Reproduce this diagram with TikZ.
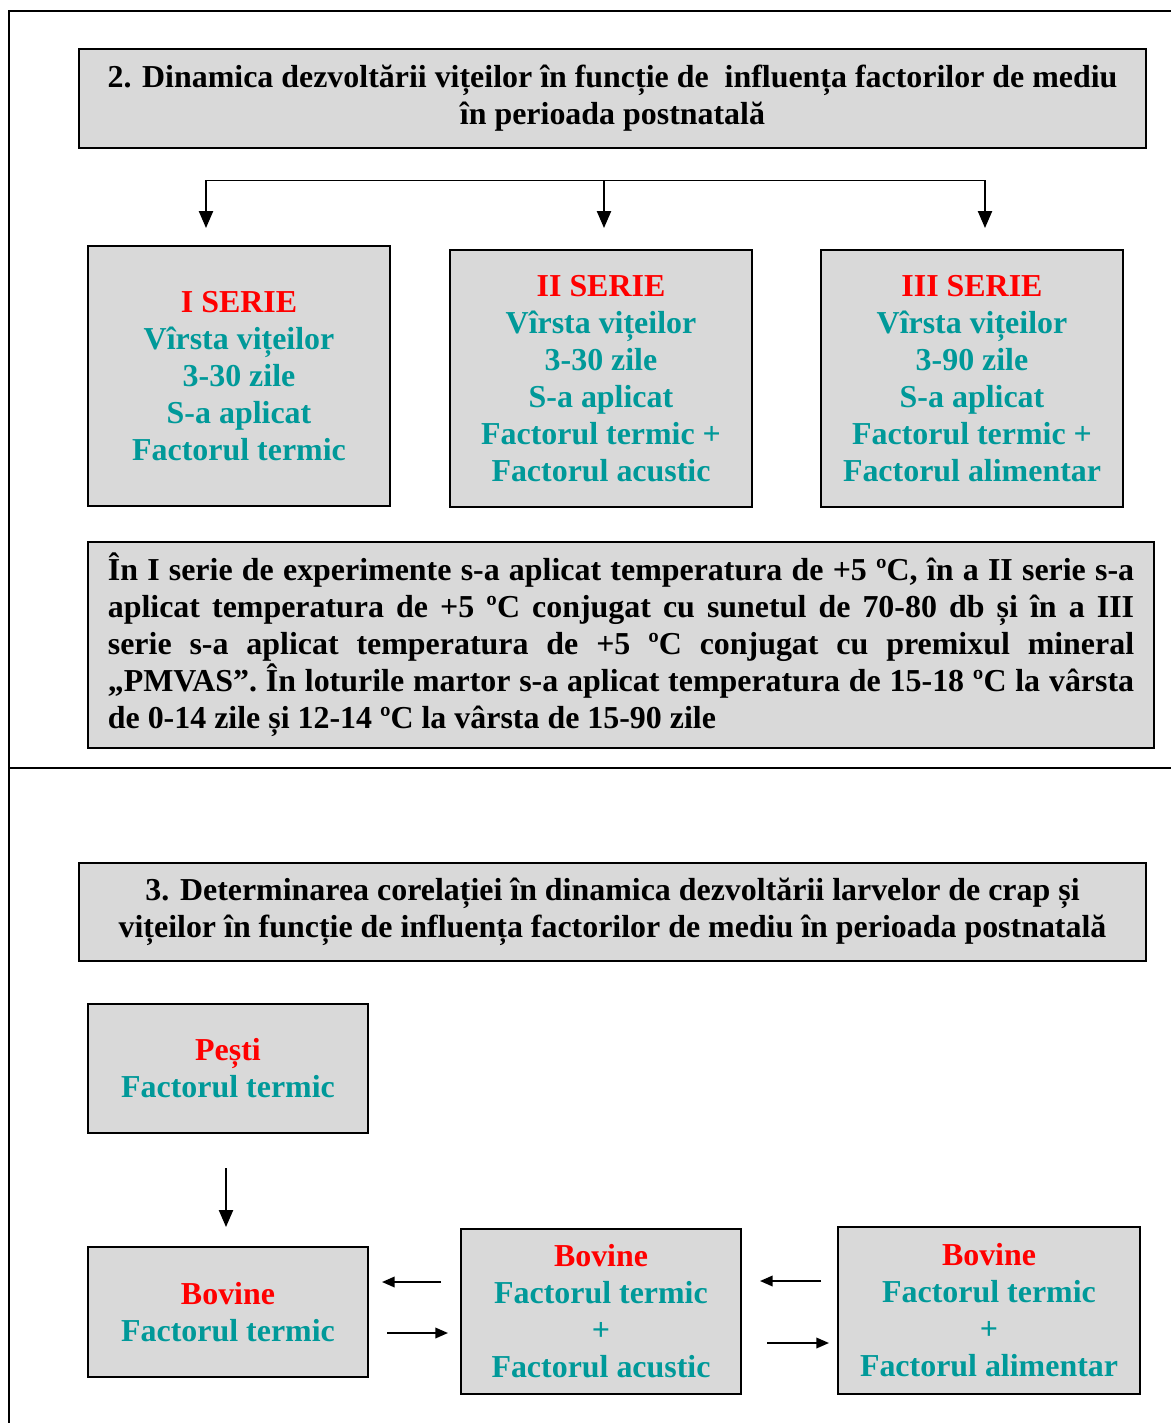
\documentclass[tikz,border=0pt]{standalone}
\usepackage{fontspec}
\setmainfont{Liberation Serif}
\usetikzlibrary{calc,positioning,arrows.meta,shadows}
\definecolor{serred}{RGB}{255,0,0}
\definecolor{serteal}{RGB}{0,153,153}
\definecolor{boxgray}{RGB}{217,217,217}
\newcommand\rosu[1]{\textcolor{serred}{#1}}
\newcommand\verde[1]{\textcolor{serteal}{#1}}

\begin{document}
\begin{tikzpicture}
[x=0.025cm, y=-0.025cm,
 font=\fontsize{22.7}{26.3}\selectfont\bfseries,
 box/.style={draw, line width=1.3pt, fill=boxgray, align=center, inner sep=0pt,
   drop shadow={shadow xshift=0.7pt, shadow yshift=-0.7pt, fill=black, opacity=1}},
 frame/.style={line width=1.6pt},
 arr/.style={line width=1.3pt, -{Triangle[length=12pt, width=10pt]}},
 harr/.style={line width=1.3pt, -{Triangle[length=9pt, width=7.5pt]}}]
\useasboundingbox (0,0) rectangle (1171,1423);
% cadrul
\draw[frame] (1171,11) -- (9,11) -- (9,1423);
\draw[frame] (9,768) -- (1171,768);
% partea 2
\node [box, minimum width=26.675cm, minimum height=2.475cm] (tit2) at (612.5,98.5)
  {2. Dinamica dezvoltării vițeilor în funcție de \ influența factorilor de mediu\\ în perioada postnatală};
\node [box, minimum width=7.55cm, minimum height=6.5cm] (s1) at (239,376)
  {\rosu{I SERIE}\\ \verde{Vîrsta vițeilor}\\ \verde{3-30 zile}\\ \verde{S-a aplicat}\\ \verde{Factorul termic}};
\node [box, minimum width=7.55cm, minimum height=6.425cm] (s2) at (601,378.5)
  {\rosu{II SERIE}\\ \verde{Vîrsta vițeilor}\\ \verde{3-30 zile}\\ \verde{S-a aplicat}\\ \verde{Factorul termic +}\\ \verde{Factorul acustic}};
\node [box, minimum width=7.55cm, minimum height=6.425cm] (s3) at (972,378.5)
  {\rosu{III SERIE}\\ \verde{Vîrsta vițeilor}\\ \verde{3-90 zile}\\ \verde{S-a aplicat}\\ \verde{Factorul termic +}\\ \verde{Factorul alimentar}};
\node [box, align=justify, text width=25.65cm, inner xsep=0.5cm, minimum height=5.15cm] (expl) at (621,645)
  {În I serie de experimente s-a aplicat temperatura de +5 ºC, în a II serie s-a\linebreak
   aplicat temperatura de +5 ºC conjugat cu sunetul de 70-80 db și în a III\linebreak
   serie s-a aplicat temperatura de +5 ºC conjugat cu premixul mineral\linebreak
   „PMVAS”. În loturile martor s-a aplicat temperatura de 15-18 ºC la vârsta\linebreak
   de 0-14 zile și 12-14 ºC la vârsta de 15-90 zile};
\coordinate (ramA) at (206,180);
\coordinate (ramC) at (985,180);
\draw[line width=0.7pt] (ramA) -- (ramC);
\foreach \x/\n in {206/1, 604/2, 985/3}
  { \coordinate (ram\n) at (\x,180);
    \coordinate (tip\n) at (\x,228);
    \draw[arr] (ram\n) -- (tip\n);
  }
% partea 3
\node [box, minimum width=26.675cm, minimum height=2.45cm] (tit3) at (612.5,912)
  {3. Determinarea corelației în dinamica dezvoltării larvelor de crap și\\ vițeilor în funcție de influența factorilor de mediu în perioada postnatală};
\node [box, minimum width=7cm, minimum height=3.225cm] (pesti) at (228,1068.5)
  {\rosu{Pești}\\ \verde{Factorul termic}};
\node [box, minimum width=7cm, minimum height=3.25cm] (bov1) at (228,1312)
  {\rosu{Bovine}\\ \verde{Factorul termic}};
\node [box, minimum width=7cm, minimum height=4.125cm] (bov2) at (601,1311.5)
  {\rosu{Bovine}\\ \verde{Factorul termic}\\ \verde{+}\\ \verde{Factorul acustic}};
\node [box, minimum width=7.55cm, minimum height=4.175cm] (bov3) at (989,1310.5)
  {\rosu{Bovine}\\ \verde{Factorul termic}\\ \verde{+}\\ \verde{Factorul alimentar}};
\coordinate (pjos) at (226,1168);
\coordinate (pvf) at (226,1227);
\draw[arr] (pjos) -- (pvf);
\coordinate (b21s) at (441,1282);  \coordinate (b21f) at (382,1282);
\coordinate (b12s) at (387,1333);  \coordinate (b12f) at (448,1333);
\coordinate (b32s) at (821,1281);  \coordinate (b32f) at (760,1281);
\coordinate (b23s) at (767,1343);  \coordinate (b23f) at (829,1343);
\foreach \a/\b in {b21s/b21f, b12s/b12f, b32s/b32f, b23s/b23f}
  \draw[harr] (\a) -- (\b);
\end{tikzpicture}
\end{document}
